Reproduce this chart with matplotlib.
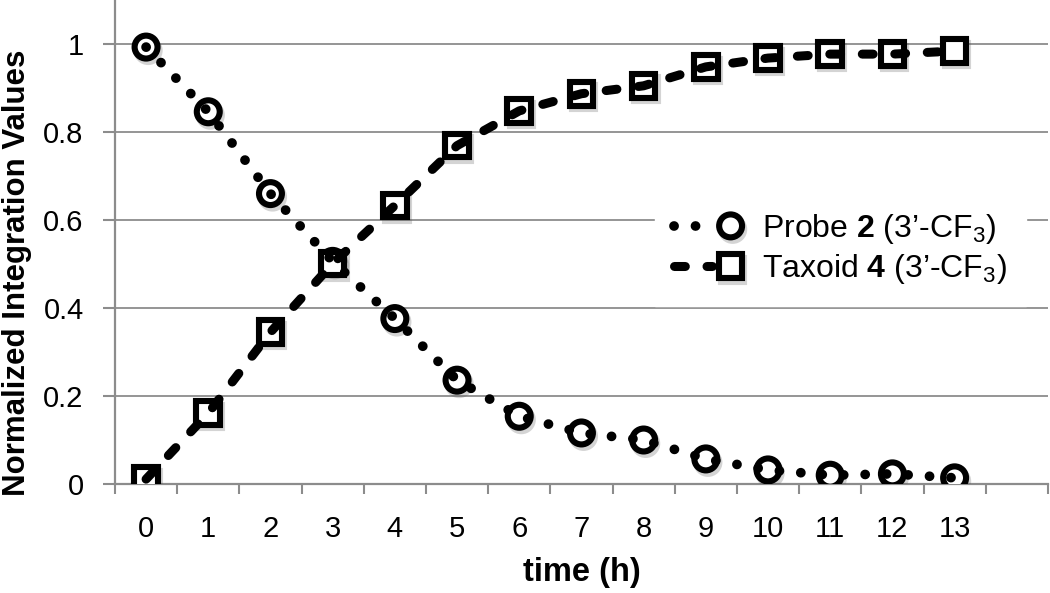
import numpy as np
import matplotlib
matplotlib.use("Agg")
import matplotlib.pyplot as plt
import matplotlib.patheffects as pe
from matplotlib.legend_handler import HandlerTuple

plt.rcParams["font.family"] = ["Liberation Sans", "DejaVu Sans"]
plt.rcParams["mathtext.fontset"] = "custom"
plt.rcParams["mathtext.rm"] = "Liberation Sans"
plt.rcParams["mathtext.bf"] = "Liberation Sans:bold"

# ---- data ------------------------------------------------------------------
hours = list(range(14))
probe = [0.993, 0.846, 0.660, 0.506, 0.376, 0.236, 0.154, 0.116, 0.100,
         0.057, 0.032, 0.020, 0.023, 0.014]
taxoid = [0.011, 0.161, 0.345, 0.501, 0.633, 0.769, 0.848, 0.887, 0.905,
          0.948, 0.968, 0.977, 0.977, 0.984]
y_ticks = [0, 0.2, 0.4, 0.6, 0.8, 1.0]
y_tick_labels = ["0", "0.2", "0.4", "0.6", "0.8", "1"]
probe_label = "Probe $\\mathbf{2}$ (3\u2019-CF$_3$)"
taxoid_label = "Taxoid $\\mathbf{4}$ (3\u2019-CF$_3$)"

GRID = "#8c8c8c"
shadow = [pe.SimpleLineShadow(offset=(1.5, -2.5), shadow_color="#555555",
                              alpha=0.25), pe.Normal()]

fig = plt.figure(figsize=(10.5, 5.93), dpi=100)
ax = fig.add_axes([0.1095, 0.1838, 0.998 - 0.1095, 1 - 0.1838])

x = np.array(hours)

# probe: dotted line with open circles (line drawn over the markers)
p_mk, = ax.plot(x, probe, ls="none", marker="o", ms=16.5, mew=4.4,
                mfc="white", mec="black", zorder=3, path_effects=shadow)
p_ln, = ax.plot(x, probe, color="black", lw=7, dash_capstyle="round",
                zorder=5)
p_ln.set_dashes([0.01, 2.2])

# taxoid: dashed line with open squares
t_mk, = ax.plot(x, taxoid, ls="none", marker="s", ms=17, mew=4.4,
                mfc="white", mec="black", zorder=3, path_effects=shadow)
t_ln, = ax.plot(x, taxoid, color="black", lw=6.5, dash_capstyle="round",
                zorder=4)
t_ln.set_dashes([1.2, 2.4])

ax.set_xlim(-0.5, 14.5)
ax.set_ylim(0, 1.1)

ax.set_yticks(y_ticks)
ax.set_yticklabels(y_tick_labels)
ax.set_xticks(x)
ax.set_xticks(np.arange(-0.5, 15, 1.0), minor=True)

ax.tick_params(axis="y", direction="out", length=8.5, width=1.5, color=GRID,
               labelsize=21, pad=14)
ax.tick_params(axis="x", which="major", length=0, labelsize=21, pad=22)
ax.tick_params(axis="x", which="minor", direction="out", length=7, width=1.5,
               color=GRID)

for s in ("top", "right"):
    ax.spines[s].set_visible(False)
for s in ("left", "bottom"):
    ax.spines[s].set_color(GRID)
    ax.spines[s].set_linewidth(1.6)

ax.yaxis.grid(True, color=GRID, lw=1.3, zorder=0)
ax.set_axisbelow(True)

ax.set_xlabel("time (h)", fontsize=23.5, fontweight="bold")
ax.xaxis.set_label_coords(0.5, -0.151)
ax.set_ylabel("Normalized Integration Values", fontsize=22.5,
              fontweight="bold")
ax.yaxis.set_label_coords(-0.089, 0.436)

leg = ax.legend([(p_ln, p_mk), (t_ln, t_mk)], [probe_label, taxoid_label],
                handler_map={tuple: HandlerTuple(ndivide=None, pad=0)},
                loc="center left", bbox_to_anchor=(0.579, 0.485),
                borderaxespad=0, fontsize=23, frameon=True,
                facecolor="white", edgecolor="white", framealpha=1,
                fancybox=False, handlelength=2.35, handletextpad=0.4,
                labelspacing=0.2, borderpad=0.6)

fig.savefig("out.png", dpi=100)
